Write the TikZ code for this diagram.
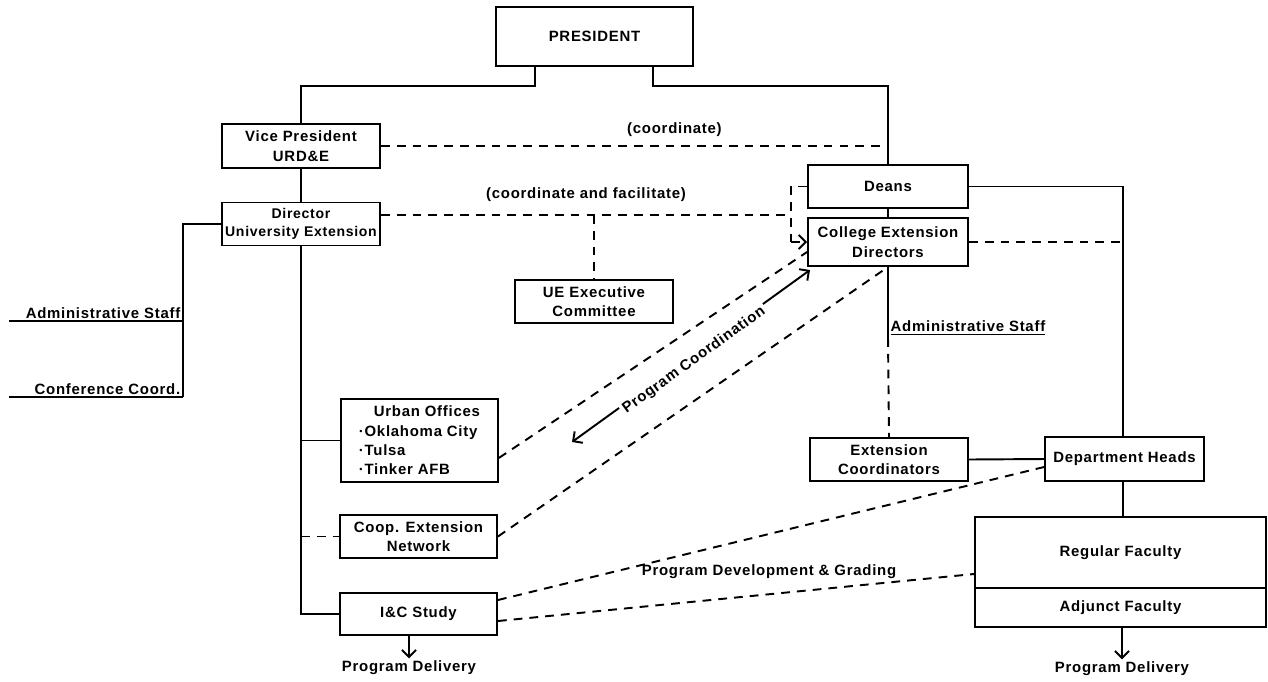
\documentclass[tikz,border=0pt]{standalone}
\usepackage{fontspec}
\setmainfont{Liberation Sans}[LetterSpace=5]
\usetikzlibrary{arrows.meta}
\tikzset{box/.style={draw,line width=1.1pt,font=\fontsize{8.5}{11}\selectfont\bfseries,align=center,inner sep=1pt,minimum width=3.16cm,minimum height=0.86cm},
lbl/.style={font=\fontsize{8.5}{11}\selectfont\bfseries,inner sep=1pt},
dline/.style={line width=1.1pt,dash pattern=on 5pt off 4pt}}
\begin{document}
\begin{tikzpicture}[x=0.02cm,y=-0.02cm,line width=1.1pt,>={Straight Barb[length=4pt,width=8pt]}]
\useasboundingbox (0,0) rectangle (1268,681);
\node[box,minimum width=3.94cm,minimum height=1.18cm] (pres) at (594.5,36.5) {PRESIDENT};
\node[box,minimum height=0.88cm] (vp) at (301,146) {Vice President\\URD\&E};
\node[box,font=\fontsize{8}{10.5}\selectfont\bfseries,inner xsep=0pt] (dir) at (301,224) {Director\\University Extension};
\node[box] (uec) at (594,301.5) {UE Executive\\Committee};
\node[box,minimum width=3.2cm] (deans) at (888,186.5) {Deans};
\node[box,minimum width=3.2cm,minimum height=0.96cm] (ced) at (888,242) {College Extension\\Directors};
\node[box] (exc) at (889,459.5) {Extension\\Coordinators};
\node[box,minimum width=3.18cm,minimum height=0.88cm] (dh) at (1124.5,459) {Department Heads};
\node[box,minimum width=3.14cm,minimum height=1.66cm,align=left,anchor=north west] (urb) at (340,398) {\quad Urban Offices\\·Oklahoma City\\·Tulsa\\·Tinker AFB};
\node[box,minimum width=3.14cm] (coop) at (418.5,536.5) {Coop. Extension\\Network};
\node[box,minimum width=3.14cm,minimum height=0.84cm] (ic) at (418.5,614) {I\&C Study};
\node[box,minimum width=5.82cm,minimum height=1.42cm] (reg) at (1120.5,552.5) {Regular Faculty};
\node[box,minimum width=5.82cm,minimum height=0.78cm] (adj) at (1120.5,607.5) {Adjunct Faculty};
\node[lbl] (pdl) at (409,668) {Program Delivery};
\node[lbl] (pdr) at (1122,669) {Program Delivery};
\coordinate (pl) at (535,86);
\coordinate (pr) at (653,86);
\coordinate (b1) at (791,215);
\coordinate (lb) at (183,397);
\coordinate (al) at (9,321);
\coordinate (cl) at (9,397);
\coordinate (as) at (888,338);
\coordinate (dx) at (1123,459);
\coordinate (pca) at (572,442);
\coordinate (pcb) at (810,270);
\draw (pl |- pres.south) -- (pl) -| (vp.north);
\draw (pr |- pres.south) -- (pr) -| (deans.north);
\draw (vp.south) -- (dir.north);
\draw[dline] (vp.east) -- (vp.east -| deans.north) node[lbl,midway,above=4pt,xshift=0.8cm] {(coordinate)};
\draw[dline] (dir.east |- b1) -- (b1) node[lbl,pos=0.5,above=6pt] {(coordinate and facilitate)};
\draw[dline] (deans.west) -- (deans.west -| b1) -- (b1 |- ced.west) edge[->] (ced.west);
\draw[dline] (uec.north |- b1) -- (uec.north);
\draw (deans.south) -- (ced.north);
\draw (deans.east) -| (dx |- dh.north);
\draw[dline] (ced.east) -- (ced.east -| dx);
\node[lbl,anchor=south west] (adr) at (as) {\underline{Administrative Staff}};
\draw (ced.south) -- (as);
\draw[dline] (as) -- (exc.north);
\draw (exc.east) -- (dh.west);
\draw (dx |- dh.south) -- (dx |- reg.north);
\draw (dir.west) -| (lb);
\node[lbl,anchor=south east] (adl) at (al -| lb) {Administrative Staff};
\node[lbl,anchor=south east] (ccl) at (lb) {Conference Coord.};
\draw (al) -- (al -| lb);
\draw (cl) -- (lb);
\draw (dir.south) |- (ic.west);
\draw (dir.south |- urb.west) -- (urb.west);
\draw[dline] (dir.south |- coop.west) -- (coop.west);
\draw[dline] ([yshift=-0.35cm]urb.east) -- ([yshift=-0.2cm]ced.west);
\draw[dline] (coop.east) -- (ced.south);
\draw[<->] (pca) -- (pcb) node[lbl,midway,sloped,fill=white,inner sep=1.5pt,yshift=-3pt] {Program Coordination};
\draw[dline] ([yshift=0.28cm]ic.east) -- ([yshift=-0.16cm]dh.west);
\draw[dline] ([yshift=-0.14cm]ic.east) -- ([yshift=-0.43cm]reg.west);
\node[lbl] (pdg) at (769,572) {Program Development \& Grading};
\draw[->] (pdl.north |- ic.south) -- (pdl.north);
\draw[->] (pdr.north |- adj.south) -- (pdr.north);
\end{tikzpicture}
\end{document}
